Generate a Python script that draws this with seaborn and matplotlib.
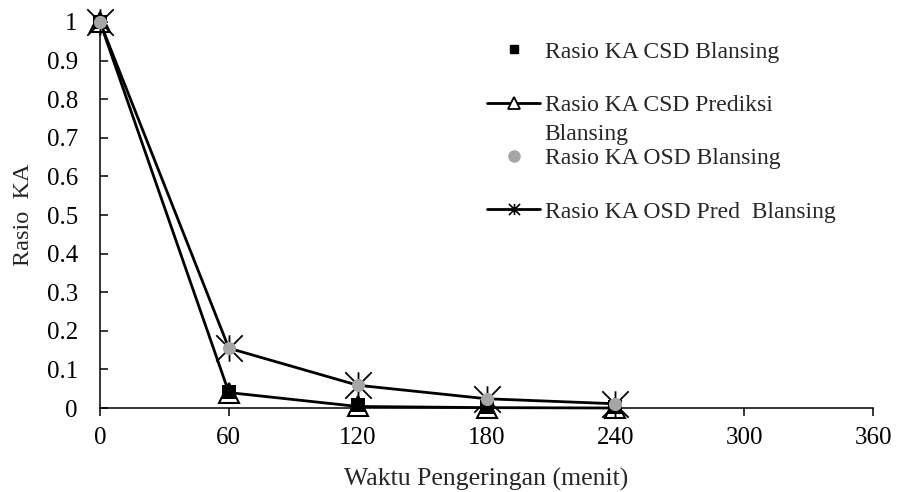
import matplotlib
matplotlib.use("Agg")
import matplotlib.pyplot as plt
from matplotlib.lines import Line2D
from matplotlib.path import Path
import seaborn as sns
import pandas as pd

# Drying time (minutes) and moisture ratio series
waktu = [0, 60, 120, 180, 240]
csd_blansing = [1.0, 0.041, 0.008, 0.003, 0.002]
csd_prediksi = [1.0, 0.040, 0.004, 0.001, 0.0]
osd_blansing = [1.0, 0.155, 0.060, 0.024, 0.011]
osd_pred = [1.0, 0.155, 0.059, 0.024, 0.011]

x_ticks = [0, 60, 120, 180, 240, 300, 360]
y_ticks = [0, 0.1, 0.2, 0.3, 0.4, 0.5, 0.6, 0.7, 0.8, 0.9, 1]
y_labels = ["0", "0.1", "0.2", "0.3", "0.4", "0.5", "0.6", "0.7", "0.8", "0.9", "1"]

lbl_csd = "Rasio KA CSD Blansing"
lbl_csd_pred = "Rasio KA CSD Prediksi"
lbl_csd_pred_wrap = "Blansing"
lbl_osd = "Rasio KA OSD Blansing"
lbl_osd_pred = "Rasio KA OSD Pred  Blansing"

df = pd.DataFrame({
    "waktu": waktu,
    "csd": csd_blansing,
    "csd_pred": csd_prediksi,
    "osd": osd_blansing,
    "osd_pred": osd_pred,
})

sns.set_theme(style="white")
plt.rcParams["font.family"] = ["Liberation Serif", "DejaVu Serif"]
serif = ["Liberation Serif", "DejaVu Serif"]

# asterisk marker: vertical bar crossed by an X
star = Path(
    [(0, -1), (0, 1), (-1, -1), (1, 1), (-1, 1), (1, -1)],
    [Path.MOVETO, Path.LINETO, Path.MOVETO, Path.LINETO, Path.MOVETO, Path.LINETO],
)

fig = plt.figure(figsize=(8.97, 4.92), dpi=100)
ax = fig.add_axes([0.1115, 0.1707, 0.8618, 0.7846])

grey = "#a6a6a6"
lw = 2.0

sns.lineplot(data=df, x="waktu", y="csd_pred", ax=ax, color="black", lw=lw,
             marker="^", markersize=15, markerfacecolor="white",
             markeredgecolor="black", markeredgewidth=1.5, clip_on=False, zorder=3)
sns.scatterplot(data=df, x="waktu", y="csd", ax=ax, marker="s", s=100,
                color="black", edgecolor="black", linewidth=0, clip_on=False, zorder=4)
sns.lineplot(data=df, x="waktu", y="osd_pred", ax=ax, color="black", lw=lw,
             marker=star, markersize=19, markeredgecolor="black",
             markeredgewidth=1.3, clip_on=False, zorder=5)
sns.scatterplot(data=df, x="waktu", y="osd", ax=ax, marker="o", s=90,
                color=grey, edgecolor=grey, linewidth=0, clip_on=False, zorder=6)

ax.set_xlim(0, 360)
ax.set_ylim(0, 1)
ax.set_xticks(x_ticks)
ax.set_xticklabels([str(t) for t in x_ticks])
ax.set_yticks(y_ticks)
ax.set_yticklabels(y_labels)

for side in ["top", "right"]:
    ax.spines[side].set_visible(False)
for side in ["left", "bottom"]:
    ax.spines[side].set_color("black")
    ax.spines[side].set_linewidth(1.1)

ax.tick_params(axis="x", direction="out", length=5.5, width=1.1, colors="black",
               labelsize=18, pad=8, bottom=True)
ax.tick_params(axis="y", direction="in", length=5.5, width=1.1, colors="black",
               labelsize=18, pad=16, left=True)

ax.set_xlabel("Waktu Pengeringan (menit)", fontsize=18.5, labelpad=14)
ax.set_ylabel("Rasio  KA", fontsize=17.5, labelpad=9)

handles = [
    Line2D([], [], ls="none", marker="s", markersize=6, color="black"),
    Line2D([], [], color="black", lw=lw, marker="^", markersize=8,
           markerfacecolor="white", markeredgecolor="black", markeredgewidth=1.3),
    Line2D([], [], ls="none", marker="o", markersize=8, color=grey),
    Line2D([], [], color="black", lw=lw, marker=star, markersize=8,
           markeredgewidth=1.2),
]
leg = ax.legend(handles, [lbl_csd, lbl_csd_pred, lbl_osd, lbl_osd_pred],
                loc="upper left", bbox_to_anchor=(487 / 897, (492 - 41) / 492),
                bbox_transform=fig.transFigure, frameon=False,
                prop={"family": serif, "size": 17}, handlelength=2.25,
                handletextpad=0.2, labelspacing=1.35, borderaxespad=0, borderpad=0)
leg.set_zorder(5)

# wrapped continuation of the second legend label, drawn after the legend
pred_text = leg.get_texts()[1]
ax.annotate(lbl_csd_pred_wrap, xy=(0, 0), xycoords=pred_text,
            xytext=(0, -29), textcoords="offset pixels",
            fontproperties=pred_text.get_fontproperties().copy(),
            va="bottom", ha="left", annotation_clip=False,
            color=pred_text.get_color(), zorder=10)

fig.savefig("out.png", dpi=100, facecolor="white")
